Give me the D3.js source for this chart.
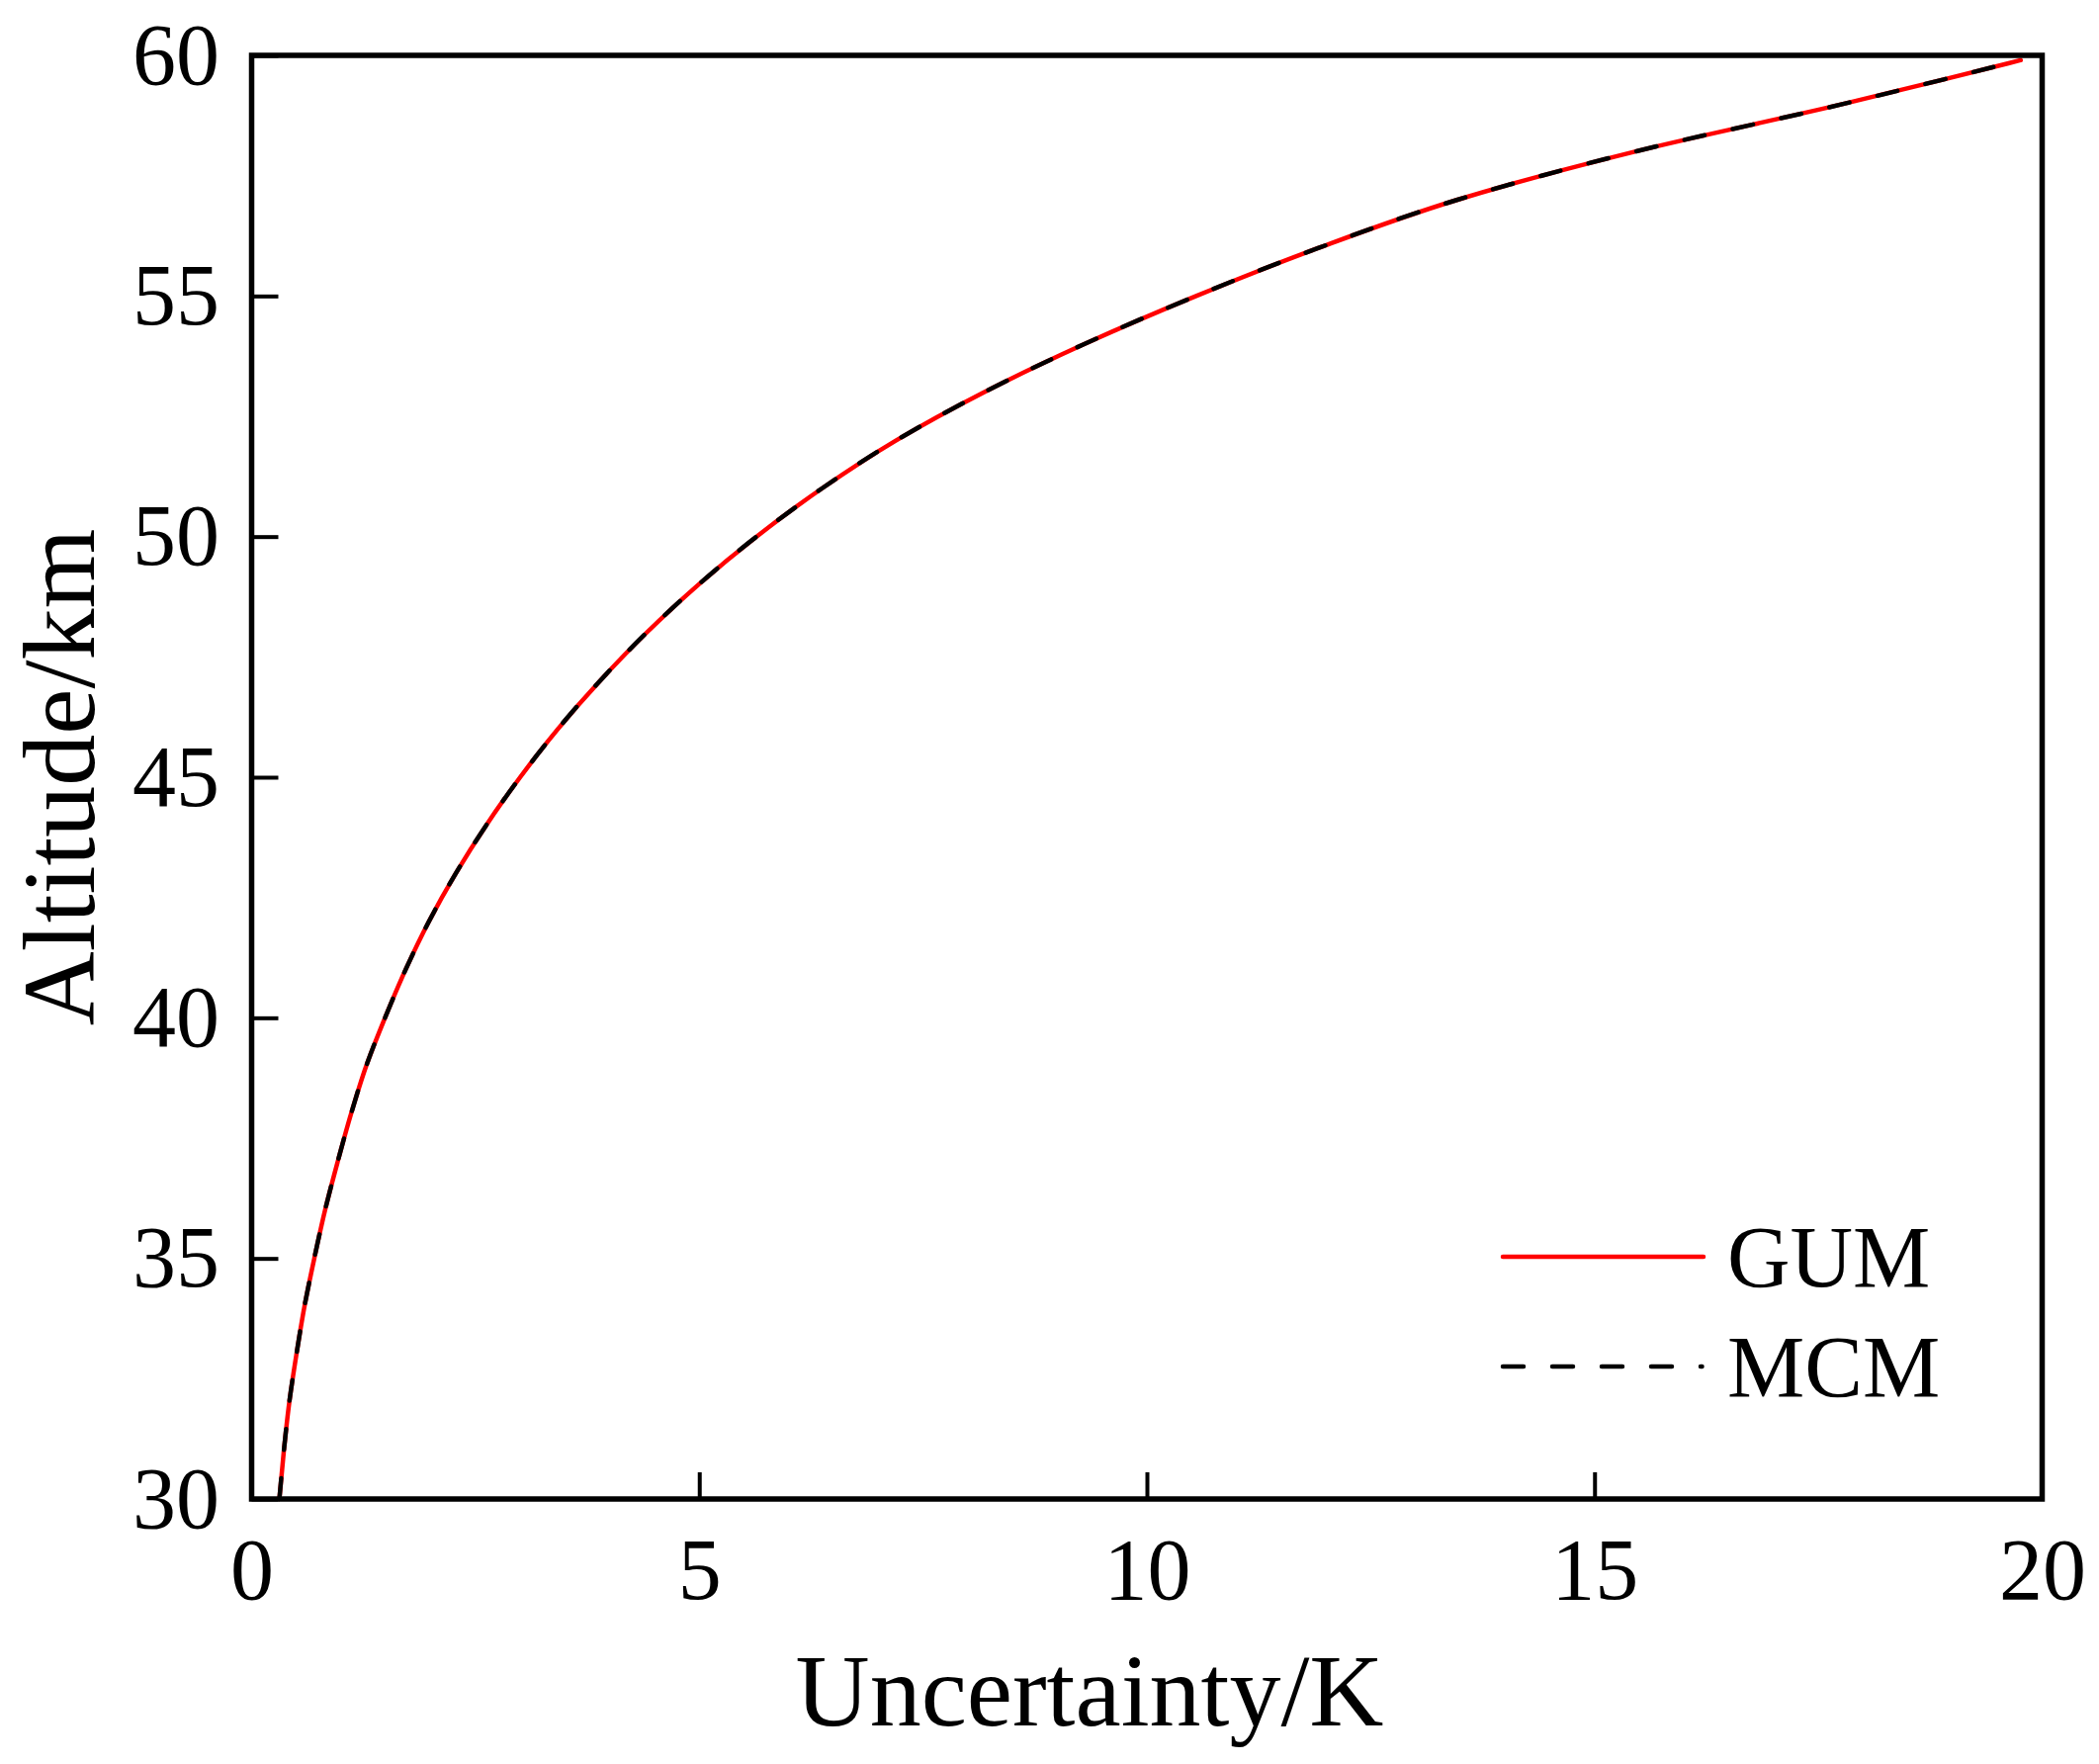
<!DOCTYPE html>
<html>
<head>
<meta charset="utf-8">
<script src="https://cdn.jsdelivr.net/npm/d3@7"></script>
<style>
  html, body { margin: 0; padding: 0; background: #fff; }
  svg text { font-family: "Liberation Serif", "Times New Roman", serif; fill: #000; }
</style>
</head>
<body>
<div id="chart"></div>
<script>
// altitude (km) and uncertainty (K)
const altitude = [30, 31, 32, 33, 34, 35, 36, 37, 38, 39, 40, 41, 42, 43, 44, 45,
  46, 47, 48, 49, 50, 51, 52, 53, 54, 55, 56, 57, 58, 59, 59.5, 59.9];
const gumU = [0.31, 0.36, 0.42, 0.50, 0.59, 0.70, 0.82, 0.96, 1.11, 1.28, 1.49, 1.72,
  1.98, 2.28, 2.62, 3.00, 3.42, 3.89, 4.41, 4.99, 5.64, 6.37, 7.20, 8.18, 9.30, 10.55,
  11.92, 13.47, 15.45, 17.80, 18.90, 19.76];
const mcmU = [0.31, 0.36, 0.42, 0.50, 0.59, 0.70, 0.82, 0.96, 1.11, 1.28, 1.49, 1.72,
  1.98, 2.28, 2.62, 3.00, 3.42, 3.89, 4.41, 4.99, 5.64, 6.37, 7.20, 8.18, 9.30, 10.55,
  11.92, 13.47, 15.45, 17.80, 18.90, 19.76];

const xTicks = [0, 5, 10, 15, 20];
const yTicks = [30, 35, 40, 45, 50, 55, 60];
const seriesNames = ['GUM', 'MCM'];

const W = 2123, H = 1784;
const margin = { top: 56, right: 57.5, bottom: 268, left: 254.5 };
const width = W - margin.left - margin.right;
const height = H - margin.top - margin.bottom;

const svg = d3.select('#chart')
  .append('svg')
  .attr('width', W)
  .attr('height', H);

const g = svg.append('g')
  .attr('transform', `translate(${margin.left},${margin.top})`);

// Escalas
const x = d3.scaleLinear().domain([0, 20]).range([0, width]);
const y = d3.scaleLinear().domain([30, 60]).range([height, 0]);

// Eixos (ticks para dentro)
const yAxis = g.append('g')
  .call(d3.axisLeft(y).tickValues(yTicks).tickSize(-27).tickPadding(32.5));
const xAxis = g.append('g')
  .attr('transform', `translate(0,${height})`)
  .call(d3.axisBottom(x).tickValues(xTicks).tickSize(-27).tickPadding(38.5));

[xAxis, yAxis].forEach(a => {
  a.select('.domain').remove();
  a.selectAll('.tick line').attr('stroke', '#000').attr('stroke-width', 4);
  a.selectAll('.tick text')
    .style('font-size', '88px')
    .style('font-family', '"Liberation Serif", serif');
});

// Curvas
const gumData = altitude.map((a, i) => ({ u: gumU[i], a }));
const mcmData = altitude.map((a, i) => ({ u: mcmU[i], a }));

const line = d3.line()
  .x(d => x(d.u))
  .y(d => y(d.a))
  .curve(d3.curveMonotoneY);

g.append('path')
  .datum(gumData)
  .attr('fill', 'none')
  .attr('stroke', '#ff0000')
  .attr('stroke-width', 4.5)
  .attr('stroke-linecap', 'round')
  .attr('d', line);

g.append('path')
  .datum(mcmData)
  .attr('fill', 'none')
  .attr('stroke', '#000')
  .attr('stroke-width', 4.5)
  .attr('stroke-dasharray', '21,29')
  .attr('stroke-linecap', 'round')
  .attr('d', line);

// Moldura
g.append('rect')
  .attr('x', 0)
  .attr('y', 0)
  .attr('width', width)
  .attr('height', height)
  .attr('fill', 'none')
  .attr('stroke', '#000')
  .attr('stroke-width', 5.5);

// Titulos dos eixos
svg.append('text')
  .attr('x', 1102)
  .attr('y', 1745)
  .attr('text-anchor', 'middle')
  .style('font-size', '104px')
  .text('Uncertainty/K');

svg.append('text')
  .attr('transform', `translate(95,${margin.top + height / 2}) rotate(-90)`)
  .attr('text-anchor', 'middle')
  .style('font-size', '104px')
  .text('Altitude/km');

// Legenda
const legend = svg.append('g').attr('transform', 'translate(1520,1271)');
const legendStyles = [
  { stroke: '#ff0000', dash: null, len: 203 },
  { stroke: '#000', dash: '21,29', len: 201.5 }
];
seriesNames.forEach((name, i) => {
  const row = legend.append('g').attr('transform', `translate(0,${i * 111})`);
  row.append('line')
    .attr('x1', 0).attr('x2', legendStyles[i].len)
    .attr('y1', 0).attr('y2', 0)
    .attr('stroke', legendStyles[i].stroke)
    .attr('stroke-width', 4.5)
    .attr('stroke-linecap', 'round')
    .attr('stroke-dasharray', legendStyles[i].dash);
  row.append('text')
    .attr('x', 227)
    .attr('y', 30)
    .style('font-size', '88px')
    .text(name);
});
</script>
</body>
</html>
